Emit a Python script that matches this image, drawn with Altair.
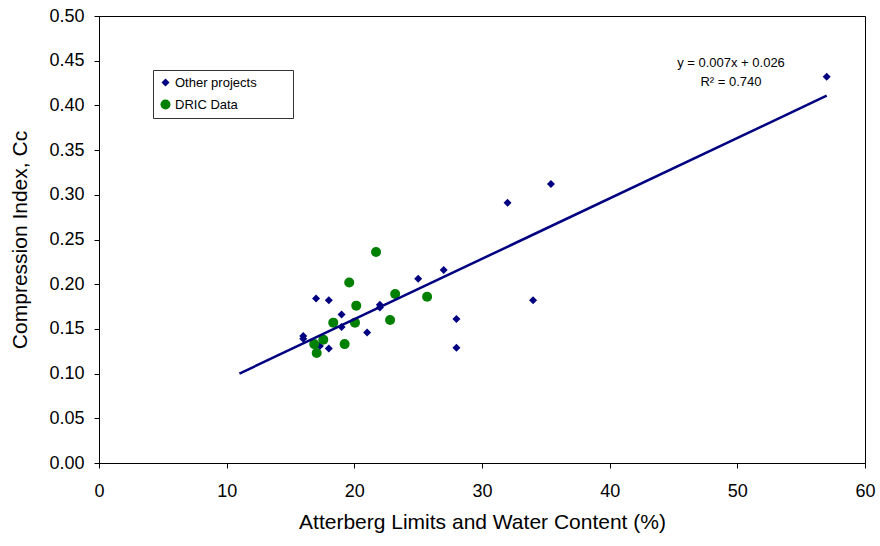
import altair as alt
import pandas as pd

# ---- data ----
other_x = [57, 35.4, 32, 34, 28, 28, 27, 25, 22, 22, 21, 19, 19, 18, 17, 16, 16, 17.3, 18]
other_y = [0.432, 0.312, 0.291, 0.182, 0.161, 0.129, 0.216, 0.206, 0.177, 0.174,
           0.146, 0.166, 0.152, 0.182, 0.184, 0.142, 0.139, 0.131, 0.128]

dric_x = [19.6, 20.15, 18.35, 20.05, 17.57, 16.86, 17.05, 19.24, 22.8, 21.7, 23.2, 25.7]
dric_y = [0.202, 0.176, 0.157, 0.157, 0.138, 0.133, 0.123, 0.133, 0.160, 0.236, 0.189, 0.186]

series_names = ["Other projects", "DRIC Data"]
fit_slope = 0.00676
fit_intercept = 0.0256
fit_x = [11, 57]
equation_lines = ["y = 0.007x + 0.026", "R\u00b2 = 0.740"]

x_ticks = [0, 10, 20, 30, 40, 50, 60]
y_ticks = [0.00, 0.05, 0.10, 0.15, 0.20, 0.25, 0.30, 0.35, 0.40, 0.45, 0.50]

FONT = "Liberation Sans"

pts = pd.DataFrame({
    "x": other_x + dric_x,
    "y": other_y + dric_y,
    "series": [series_names[0]] * len(other_x) + [series_names[1]] * len(dric_x),
})
fit = pd.DataFrame({"x": fit_x, "y": [fit_slope * v + fit_intercept for v in fit_x]})

x_scale = alt.Scale(domain=[0, 60], nice=False, zero=False)
y_scale = alt.Scale(domain=[0, 0.5], nice=False, zero=False)

x_axis = alt.Axis(values=x_ticks, format="d", title="Atterberg Limits and Water Content (%)",
                  grid=False, tickSize=5, labelPadding=14, titlePadding=11,
                  labelFlush=False, labelOverlap=False)
y_axis = alt.Axis(values=y_ticks, format=".2f", title="Compression Index, Cc",
                  grid=False, tickSize=5, labelPadding=10, titlePadding=18,
                  labelFlush=False, labelOverlap=False)

points = alt.Chart(pts).mark_point(filled=True, opacity=1, strokeWidth=0).encode(
    x=alt.X("x:Q", scale=x_scale, axis=x_axis),
    y=alt.Y("y:Q", scale=y_scale, axis=y_axis),
    color=alt.Color("series:N",
                    scale=alt.Scale(domain=series_names, range=["#000080", "#008000"]),
                    legend=alt.Legend(
                        orient="none", legendX=54, legendY=54,
                        title="MMM", titleOrient="right", titleOpacity=0,
                        titleFontSize=12, titlePadding=0,
                        strokeColor="#333333", fillColor="white",
                        padding=6, rowPadding=8, labelOffset=3,
                        labelFontSize=13, labelFont=FONT, labelColor="black",
                        symbolStrokeWidth=0)),
    shape=alt.Shape("series:N", scale=alt.Scale(domain=series_names, range=["diamond", "circle"]),
                    legend=None),
    size=alt.Size("series:N", scale=alt.Scale(domain=series_names, range=[64, 100]),
                  legend=None),
    order=alt.Order("series:N", sort="descending"),
)

line = alt.Chart(fit).mark_line(color="#000080", strokeWidth=2.5).encode(
    x=alt.X("x:Q", scale=x_scale),
    y=alt.Y("y:Q", scale=y_scale),
)

eq = alt.Chart(pd.DataFrame({"t": [equation_lines]})).mark_text(
    font=FONT, fontSize=13, color="black", align="center", baseline="alphabetic", lineHeight=19
).encode(x=alt.value(632), y=alt.value(51), text="t")

chart = alt.layer(points, line, eq).properties(
    width=766, height=447,
    autosize=alt.AutoSizeParams(type="none"),
    padding={"left": 99, "top": 16, "right": 15, "bottom": 83},
    background="white",
).configure_view(
    stroke="black", strokeWidth=1
).configure_axis(
    labelFont=FONT, titleFont=FONT, labelFontSize=18, titleFontSize=21,
    labelColor="black", titleColor="black", titleFontWeight="normal",
    domainColor="black", tickColor="black", domainWidth=1, tickWidth=1,
)

chart.save("out.html", embed_options={"renderer": "svg", "actions": False})
